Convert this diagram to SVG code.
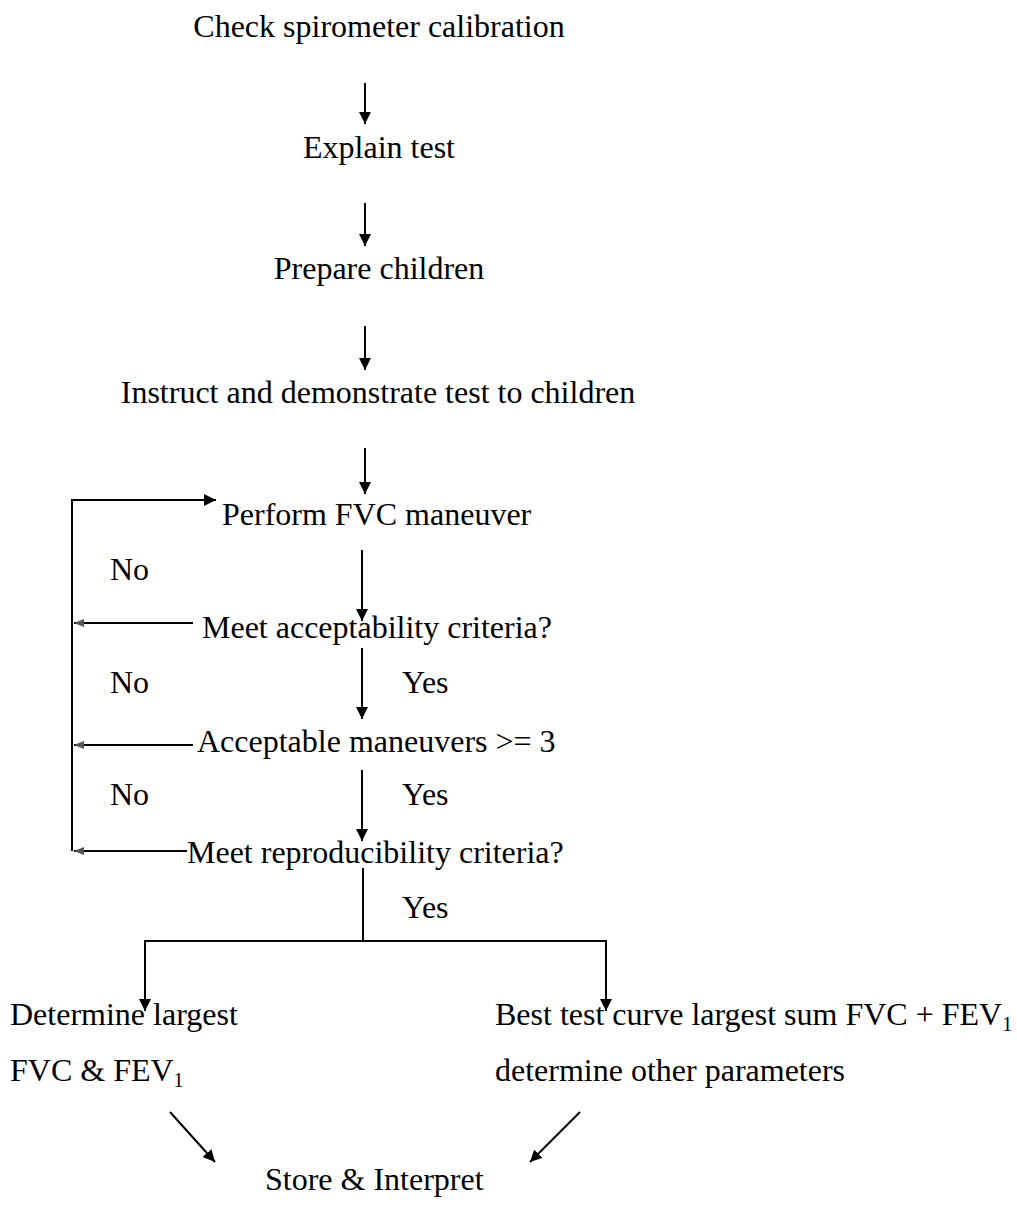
<svg xmlns="http://www.w3.org/2000/svg" width="1017" height="1206" viewBox="0 0 1017 1206">
<style>
text{font-family:"Liberation Serif","Times New Roman",serif;font-size:32px;fill:#000}
.c{text-anchor:middle}
.sub{font-size:20px}
line,path{stroke:#000;stroke-width:2;fill:none}
</style>
<defs>
<marker id="ah" viewBox="0 0 12 16" refX="12" refY="8" markerWidth="12" markerHeight="16" markerUnits="userSpaceOnUse" orient="auto">
<path d="M0,2 L12,8 L0,14 Z" style="fill:#000;stroke:none"/>
</marker>
<marker id="ahs" viewBox="0 0 10 10" refX="10" refY="5" markerWidth="10" markerHeight="10" markerUnits="userSpaceOnUse" orient="auto">
<path d="M0,1 L10,5 L0,9 Z" style="fill:#555;stroke:none"/>
</marker>
</defs>
<rect width="1017" height="1206" fill="#fff"/>
<g id="n1"><text class="c" x="379" y="37">Check spirometer calibration</text></g>
<g id="n2"><text class="c" x="379" y="158">Explain test</text></g>
<g id="n3"><text class="c" x="379" y="279">Prepare children</text></g>
<g id="n4"><text class="c" x="378" y="403">Instruct and demonstrate test to children</text></g>
<g id="n5"><text x="222" y="525">Perform FVC maneuver</text></g>
<g id="n6"><text x="202" y="638">Meet acceptability criteria?</text></g>
<g id="n7"><text x="197" y="752">Acceptable maneuvers &gt;= 3</text></g>
<g id="n8"><text x="187" y="863">Meet reproducibility criteria?</text></g>
<g id="n9"><text x="10" y="1025">Determine largest</text><text x="10" y="1081">FVC &amp; FEV<tspan class="sub" dy="6">1</tspan></text></g>
<g id="n10"><text x="495" y="1025">Best test curve largest sum FVC + FEV<tspan class="sub" dy="6">1</tspan></text><text x="495" y="1081">determine other parameters</text></g>
<g id="n11"><text x="265" y="1190">Store &amp; Interpret</text></g>
<g id="labels">
<text x="110" y="580">No</text>
<text x="110" y="693">No</text>
<text x="110" y="805">No</text>
<text x="402" y="693">Yes</text>
<text x="402" y="805">Yes</text>
<text x="402" y="918">Yes</text>
</g>
<g id="connectors">
<line x1="365" y1="83" x2="365" y2="124" marker-end="url(#ah)"/>
<line x1="365" y1="203" x2="365" y2="246" marker-end="url(#ah)"/>
<line x1="365" y1="326" x2="365" y2="370" marker-end="url(#ah)"/>
<line x1="365" y1="448" x2="365" y2="494" marker-end="url(#ah)"/>
<line x1="362" y1="550" x2="362" y2="621" marker-end="url(#ah)"/>
<line x1="362" y1="648" x2="362" y2="719" marker-end="url(#ah)"/>
<line x1="362" y1="770" x2="362" y2="841" marker-end="url(#ah)"/>
<path d="M72,851 L72,500 L216,500" marker-end="url(#ah)"/>
<line x1="193" y1="623" x2="74" y2="623" marker-end="url(#ahs)"/>
<line x1="193" y1="745" x2="74" y2="745" marker-end="url(#ahs)"/>
<line x1="187" y1="851" x2="74" y2="851" marker-end="url(#ahs)"/>
<line x1="363" y1="868" x2="363" y2="941"/>
<line x1="144" y1="941" x2="607" y2="941"/>
<line x1="145" y1="940" x2="145" y2="1011" marker-end="url(#ah)"/>
<line x1="606" y1="940" x2="606" y2="1011" marker-end="url(#ah)"/>
<line x1="170" y1="1112" x2="215" y2="1162" marker-end="url(#ah)"/>
<line x1="580" y1="1112" x2="530" y2="1162" marker-end="url(#ah)"/>
</g>
</svg>
